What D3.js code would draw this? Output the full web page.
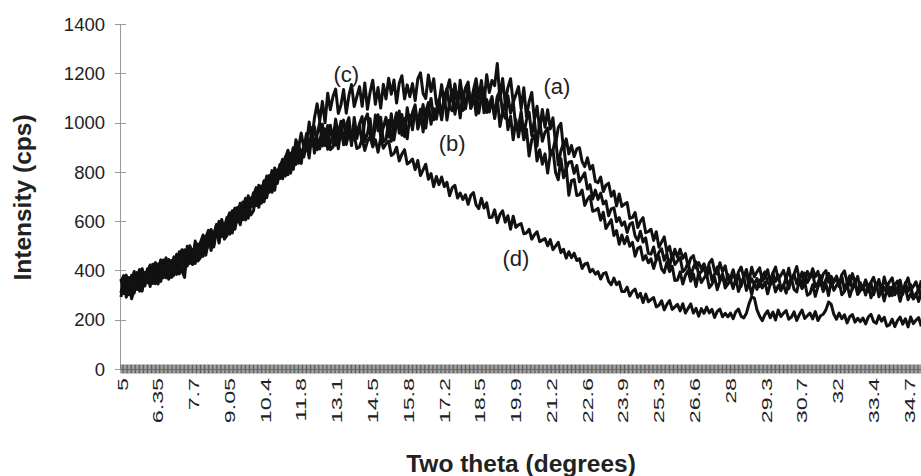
<!DOCTYPE html>
<html>
<head>
<meta charset="utf-8">
<script src="https://cdn.jsdelivr.net/npm/d3@7"></script>
<style>
  body { margin: 0; background: #fff; }
  text { font-family: Arial, "Liberation Sans", sans-serif; fill: #222; }
</style>
</head>
<body>
<svg id="chart" width="921" height="476"></svg>
<script>
// Scan grid: two-theta from 5 degrees, one reading every 0.1 degree
const thetaStart = 5;
const thetaStep = 0.1;

// Intensity readings (cps) for the four samples
const seriesA = [
  365,306,381,301,356,396,323,378,316,392,
  350,417,369,416,345,410,438,370,418,385,
  430,384,458,484,426,418,500,458,508,438,
  452,519,462,525,566,510,574,511,607,559,
  604,634,564,597,652,585,650,693,634,674,
  715,663,746,673,736,783,717,779,725,808,
  773,846,805,858,794,865,898,835,888,860,
  918,856,951,983,906,893,993,931,988,890,
  901,978,894,966,1010,927,1000,907,1021,948,
  996,1024,923,955,1016,918,989,1032,942,981,
  1021,941,1036,929,999,1047,949,1017,934,1030,
  971,1057,994,1054,962,1045,1081,993,1056,1014,
  1073,1011,1106,1138,1061,1048,1149,1088,1146,1049,
  1061,1140,1058,1132,1178,1097,1171,1079,1194,1122,
  1171,1150,1240,1092,1179,1078,1142,1178,1081,1113,
  1146,1056,1141,1024,1084,1122,1011,1066,970,1053,
  981,1052,974,1019,912,980,997,890,934,873,
  907,862,893,898,842,821,857,811,826,761,
  756,779,720,746,754,701,722,662,710,660,
  669,675,611,615,635,574,599,614,553,558,
  567,522,557,494,515,536,475,498,445,486,
  453,486,449,468,415,450,460,410,432,407,
  427,391,431,445,398,386,431,395,419,364,
  368,403,356,394,414,372,404,355,413,374,
  394,411,358,372,403,353,389,414,364,380,
  400,364,409,355,386,416,362,393,347,396,
  370,407,374,396,347,386,399,352,376,354,
  377,342,383,398,352,341,387,351,376,321,
  326,361,314,352,372,331,363,314,373,334,
  354,370,316,331,361,310,345,370,320,335,
  354,317,360
];

const seriesB = [
  292,354,291,349,285,323,383,316,407,355,
  396,422,347,376,426,355,414,451,386,420,
  455,398,476,398,372,498,428,486,428,507,
  468,539,496,547,481,550,582,518,570,541,
  590,547,624,653,598,593,678,639,692,625,
  642,711,656,721,764,710,777,717,816,771,
  819,851,783,818,875,810,874,916,856,895,
  956,880,979,876,950,1002,905,974,892,989,
  931,1014,948,1005,910,990,1020,926,983,935,
  988,920,1009,1035,952,933,1031,967,1022,922,
  931,1008,924,996,1040,957,1033,943,1060,990,
  1041,1072,974,1009,1073,978,1052,1098,1011,1053,
  1096,1018,1115,1010,1082,1132,1034,1102,1019,1115,
  1056,1138,1071,1127,1031,1110,1137,1040,1094,1043,
  1093,1021,1106,1128,1041,1018,1109,1038,1086,979,
  981,1046,950,1010,1042,947,1009,905,1008,924,
  961,978,866,887,937,828,886,916,813,839,
  842,794,826,760,778,796,730,748,690,726,
  688,714,670,682,622,650,654,598,614,583,
  597,554,587,594,540,521,559,515,532,469,
  466,495,442,474,488,441,468,414,468,424,
  439,452,395,406,433,379,412,435,382,395,
  412,374,415,359,386,414,358,386,338,384,
  356,393,360,384,335,374,387,340,366,344,
  367,334,377,394,350,341,389,355,382,329,
  336,372,326,364,385,345,378,329,389,351,
  372,388,334,349,379,328,363,388,338,353,
  372,334,377,321,350,378,323,351,304,350,
  323,360,327,350,301,340,353,306,331,309,
  332,298,341,357,312,303,350,315,342,288,
  294,330,283
];

const seriesC = [
  308,374,325,371,299,363,391,323,370,337,
  382,335,407,432,372,363,442,397,444,371,
  382,446,386,446,484,425,488,424,519,470,
  514,544,474,507,562,495,558,599,538,576,
  615,561,642,567,628,673,606,667,612,694,
  658,731,690,743,679,750,785,724,779,753,
  810,772,854,888,838,838,930,898,958,898,
  911,1002,932,1018,1076,1007,1086,999,1119,1052,
  1106,1136,1037,1071,1134,1038,1110,1154,1065,1105,
  1146,1066,1161,1054,1124,1172,1074,1142,1059,1155,
  1096,1180,1115,1173,1079,1160,1190,1096,1153,1105,
  1158,1089,1177,1202,1118,1098,1193,1126,1178,1075,
  1081,1154,1066,1134,1174,1087,1157,1061,1172,1096,
  1141,1164,1058,1085,1141,1038,1102,1138,1041,1073,
  1106,1016,1101,984,1044,1082,971,1026,930,1013,
  941,1010,930,973,864,930,949,844,890,831,
  873,795,874,890,797,768,853,776,818,705,
  764,769,704,707,726,664,688,702,640,644,
  652,604,636,570,588,606,542,562,506,544,
  508,538,498,514,458,490,496,442,460,431,
  447,408,445,456,406,391,434,395,417,359,
  361,394,345,381,399,356,386,335,392,351,
  369,385,330,344,373,322,356,381,329,344,
  362,326,369,315,344,374,319,349,302,350,
  323,361,329,353,305,345,359,313,339,318,
  342,308,351,367,323,313,361,326,353,299,
  306,342,295,334,354,314,346,298,357,319,
  339,355,301,315,345,294,329,354,303,318,
  337,300,344,289,318,348,293,322,276,323,
  296,333,301,324,275,314,328,281,306,284,
  307,274,316
];

const seriesD = [
  354,379,303,331,380,308,367,404,338,372,
  407,349,425,346,402,443,370,425,364,440,
  398,466,420,468,399,465,496,431,482,452,
  500,457,534,563,508,503,586,545,596,527,
  542,609,552,615,656,600,666,605,703,657,
  704,736,668,703,760,695,761,805,747,788,
  830,778,861,788,851,898,830,890,834,915,
  888,931,904,933,890,935,951,907,935,916,
  942,908,950,966,921,911,958,923,949,895,
  901,935,887,924,943,901,931,880,937,896,
  914,925,866,875,900,844,872,890,832,840,
  852,809,846,785,808,831,770,793,740,781,
  748,779,740,758,703,736,745,694,714,688,
  707,668,705,716,666,651,693,653,674,615,
  616,646,594,627,642,596,622,567,620,575,
  585,590,549,552,567,527,545,557,517,523,
  529,500,525,484,499,514,472,486,450,476,
  452,470,440,448,408,426,430,394,404,385,
  395,365,387,391,356,342,369,342,354,314,
  314,332,296,315,324,290,307,270,304,273,
  282,290,252,259,277,240,262,278,242,252,
  262,236,265,227,246,264,227,246,214,245,
  226,251,228,242,209,234,243,212,226,212,
  227,204,232,243,214,207,226,265,293,288,
  240,214,196,221,236,208,231,199,239,213,
  226,237,202,211,232,197,221,239,205,216,
  227,203,233,197,216,222,240,272,262,222,
  202,227,204,220,187,212,221,190,206,192,
  207,183,211,222,193,185,216,194,210,174,
  179,202,172,196,211,182,204,171,211,184,
  198,209,173
];

// Category labels printed along the two-theta axis (every 1.35 degrees)
const xTickLabels = ["5","6.35","7.7","9.05","10.4","11.8","13.1","14.5","15.8","17.2","18.5",
  "19.9","21.2","22.6","23.9","25.3","26.6","28","29.3","30.7","32","33.4","34.7"];
const xLabelStep = 1.35;
// The axis carries one tick mark per 0.05-degree category
const categoryStep = 0.05;

const yTicks = [0, 200, 400, 600, 800, 1000, 1200, 1400];

const sampleNames = ["(a)", "(b)", "(c)", "(d)"];
// Where each sample name sits, in chart units [two-theta, cps]
const sampleNameAt = [[21.45, 1116], [17.5, 885], [13.5, 1165], [19.9, 418]];

const svg = d3.select("#chart");
const W = 921, H = 476;
const plot = { left: 121, right: 921.3, top: 24, bottom: 369 };

const x = d3.scaleLinear().domain([5, 35.2]).range([plot.left, plot.right]);
const y = d3.scaleLinear().domain([0, 1400]).range([plot.bottom, plot.top]);

// --- y axis ---
const yAxis = svg.append("g");
yAxis.append("line")
  .attr("x1", 120.5).attr("x2", 120.5)
  .attr("y1", y(1400)).attr("y2", y(0))
  .attr("stroke", "#9a9a9a").attr("stroke-width", 1);
yAxis.selectAll("line.tick").data(yTicks).join("line")
  .attr("class", "tick")
  .attr("x1", 115).attr("x2", 126)
  .attr("y1", d => Math.round(y(d)) + 0.5).attr("y2", d => Math.round(y(d)) + 0.5)
  .attr("stroke", "#9a9a9a").attr("stroke-width", 1);
yAxis.selectAll("text").data(yTicks).join("text")
  .attr("x", 105).attr("y", d => y(d))
  .attr("dy", "0.36em")
  .attr("text-anchor", "end")
  .attr("font-size", 18.5)
  .text(d => d);

// --- x axis: a dense band of category ticks ---
const categories = d3.range(0, Math.round((35.2 - 5) / categoryStep) + 1).map(i => 5 + i * categoryStep);
const xAxis = svg.append("g");
xAxis.selectAll("line.tick").data(categories).join("line")
  .attr("class", "tick")
  .attr("x1", d => x(d)).attr("x2", d => x(d))
  .attr("y1", 364.5).attr("y2", 373.5)
  .attr("stroke", "#5c5c5c").attr("stroke-width", 1);
xAxis.append("line")
  .attr("x1", plot.left).attr("x2", W)
  .attr("y1", 369.5).attr("y2", 369.5)
  .attr("stroke", "#6a6a6a").attr("stroke-width", 1);

xAxis.selectAll("text").data(xTickLabels).join("text")
  .attr("transform", (d, i) => `translate(${x(5 + i * xLabelStep) + 1},378) rotate(-90) scale(1.5,1)`)
  .attr("text-anchor", "end")
  .attr("dy", "0.36em")
  .attr("font-size", 15.5)
  .text(d => d);

// --- axis titles ---
svg.append("text")
  .attr("transform", "translate(31,197.5) rotate(-90)")
  .attr("text-anchor", "middle")
  .attr("font-size", 24.5).attr("font-weight", "bold")
  .text("Intensity (cps)");
svg.append("text")
  .attr("x", 521).attr("y", 472)
  .attr("text-anchor", "middle")
  .attr("font-size", 24.5).attr("font-weight", "bold")
  .text("Two theta (degrees)");

// --- diffraction traces ---
const line = d3.line()
  .x((d, i) => x(thetaStart + i * thetaStep))
  .y(d => y(d));

svg.append("g").selectAll("path")
  .data([seriesA, seriesB, seriesC, seriesD])
  .join("path")
  .attr("d", line)
  .attr("fill", "none")
  .attr("stroke", "#111")
  .attr("stroke-width", 3)
  .attr("stroke-linejoin", "round");

// --- sample names ---
svg.append("g").selectAll("text")
  .data(sampleNames)
  .join("text")
  .attr("x", (d, i) => x(sampleNameAt[i][0]))
  .attr("y", (d, i) => y(sampleNameAt[i][1]))
  .attr("text-anchor", "middle")
  .attr("font-size", 22)
  .text(d => d);
</script>
</body>
</html>
